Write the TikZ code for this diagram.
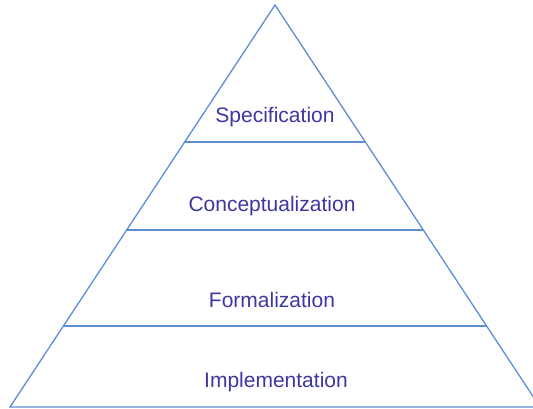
\documentclass[tikz,border=0pt]{standalone}
\usepackage{fontspec}
\setmainfont{Liberation Sans}
\usepackage{tikz}
\usetikzlibrary{calc}
\usepackage{xcolor}
\definecolor{edgeblue}{rgb}{0.36,0.56,0.82}
\definecolor{labelblue}{rgb}{0.24,0.22,0.63}
\newcommand{\layerline}[1]{\draw[edgeblue,line width=1.3pt] ($(L)!#1!(A)$) -- ($(R)!#1!(A)$);}
\newcommand{\layerlabel}[4]{\node[labelblue,anchor=base,font=\fontsize{21}{25}\selectfont] (#1) at (#2,#3) {#4};}

\begin{document}
\begin{tikzpicture}[x=1pt,y=1pt]
        \useasboundingbox (0,0) rectangle (533,408);
        \coordinate (A) at (275,403);
        \coordinate (L) at (10,1);
        \coordinate (R) at (540,1);
        \draw[edgeblue,line width=1.3pt] (L) -- (A) -- (R) -- cycle;

        % layer borders
        \layerline{0.6592}
        \layerline{0.4403}
        \layerline{0.2015}

        % layer names
        \layerlabel{spec}{275}{286}{Specification}
        \layerlabel{concept}{272}{197}{Conceptualization}
        \layerlabel{formal}{272}{101}{Formalization}
        \layerlabel{impl}{276}{21}{Implementation}

    \end{tikzpicture}
\end{document}
